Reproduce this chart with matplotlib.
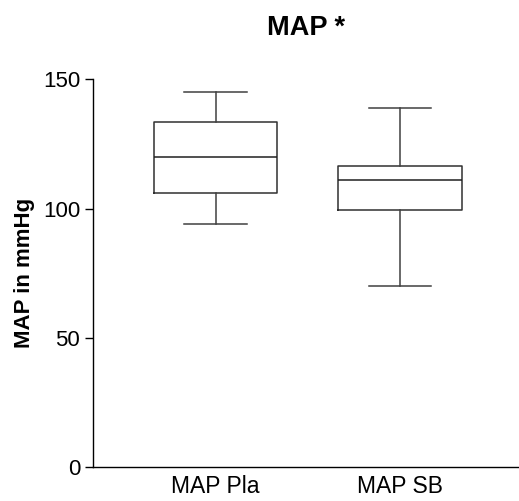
import matplotlib
matplotlib.use('Agg')
import matplotlib.pyplot as plt

# box statistics read per group (mmHg)
groups = ['MAP Pla', 'MAP SB']
whislo = [94.0, 70.0]
q1 = [106.2, 99.4]
med = [119.9, 111.0]
q3 = [133.6, 116.5]
whishi = [145.0, 139.0]

yticks = [0, 50, 100, 150]

plt.rcParams['font.family'] = ['Liberation Sans', 'DejaVu Sans']

stats = []
for k in range(len(groups)):
    stats.append({'label': groups[k], 'whislo': whislo[k], 'q1': q1[k],
                  'med': med[k], 'q3': q3[k], 'whishi': whishi[k], 'fliers': []})

fig = plt.figure(figsize=(5.19, 5.01), dpi=100)
ax = fig.add_axes([0.1786, 0.0673, 0.8214, 0.7744])

ax.bxp(stats, positions=[1, 2], widths=0.67, showfliers=False,
       boxprops=dict(color='#303030', lw=1.1),
       whiskerprops=dict(color='#404040', lw=1.1),
       capprops=dict(color='#404040', lw=1.1),
       medianprops=dict(color='#202020', lw=1.1),
       capwidths=0.34)

ax.set_xlim(0.333, 2.646)
ax.set_ylim(0, 150)
ax.set_yticks(yticks)
ax.set_xticks([1, 2])
ax.set_xticklabels(groups)

ax.spines['top'].set_visible(False)
ax.spines['right'].set_visible(False)
ax.spines['left'].set_linewidth(1.0)
ax.spines['bottom'].set_linewidth(1.0)
ax.tick_params(axis='y', length=6, width=1.0, labelsize=16, pad=3)
ax.tick_params(axis='x', length=0, labelsize=16.5, pad=5.5)

ax.set_ylabel('MAP in mmHg', fontsize=16, fontweight='bold', labelpad=6)
ax.set_title('MAP *', fontsize=19.5, fontweight='bold', pad=32)

plt.savefig('out.png', dpi=100)
